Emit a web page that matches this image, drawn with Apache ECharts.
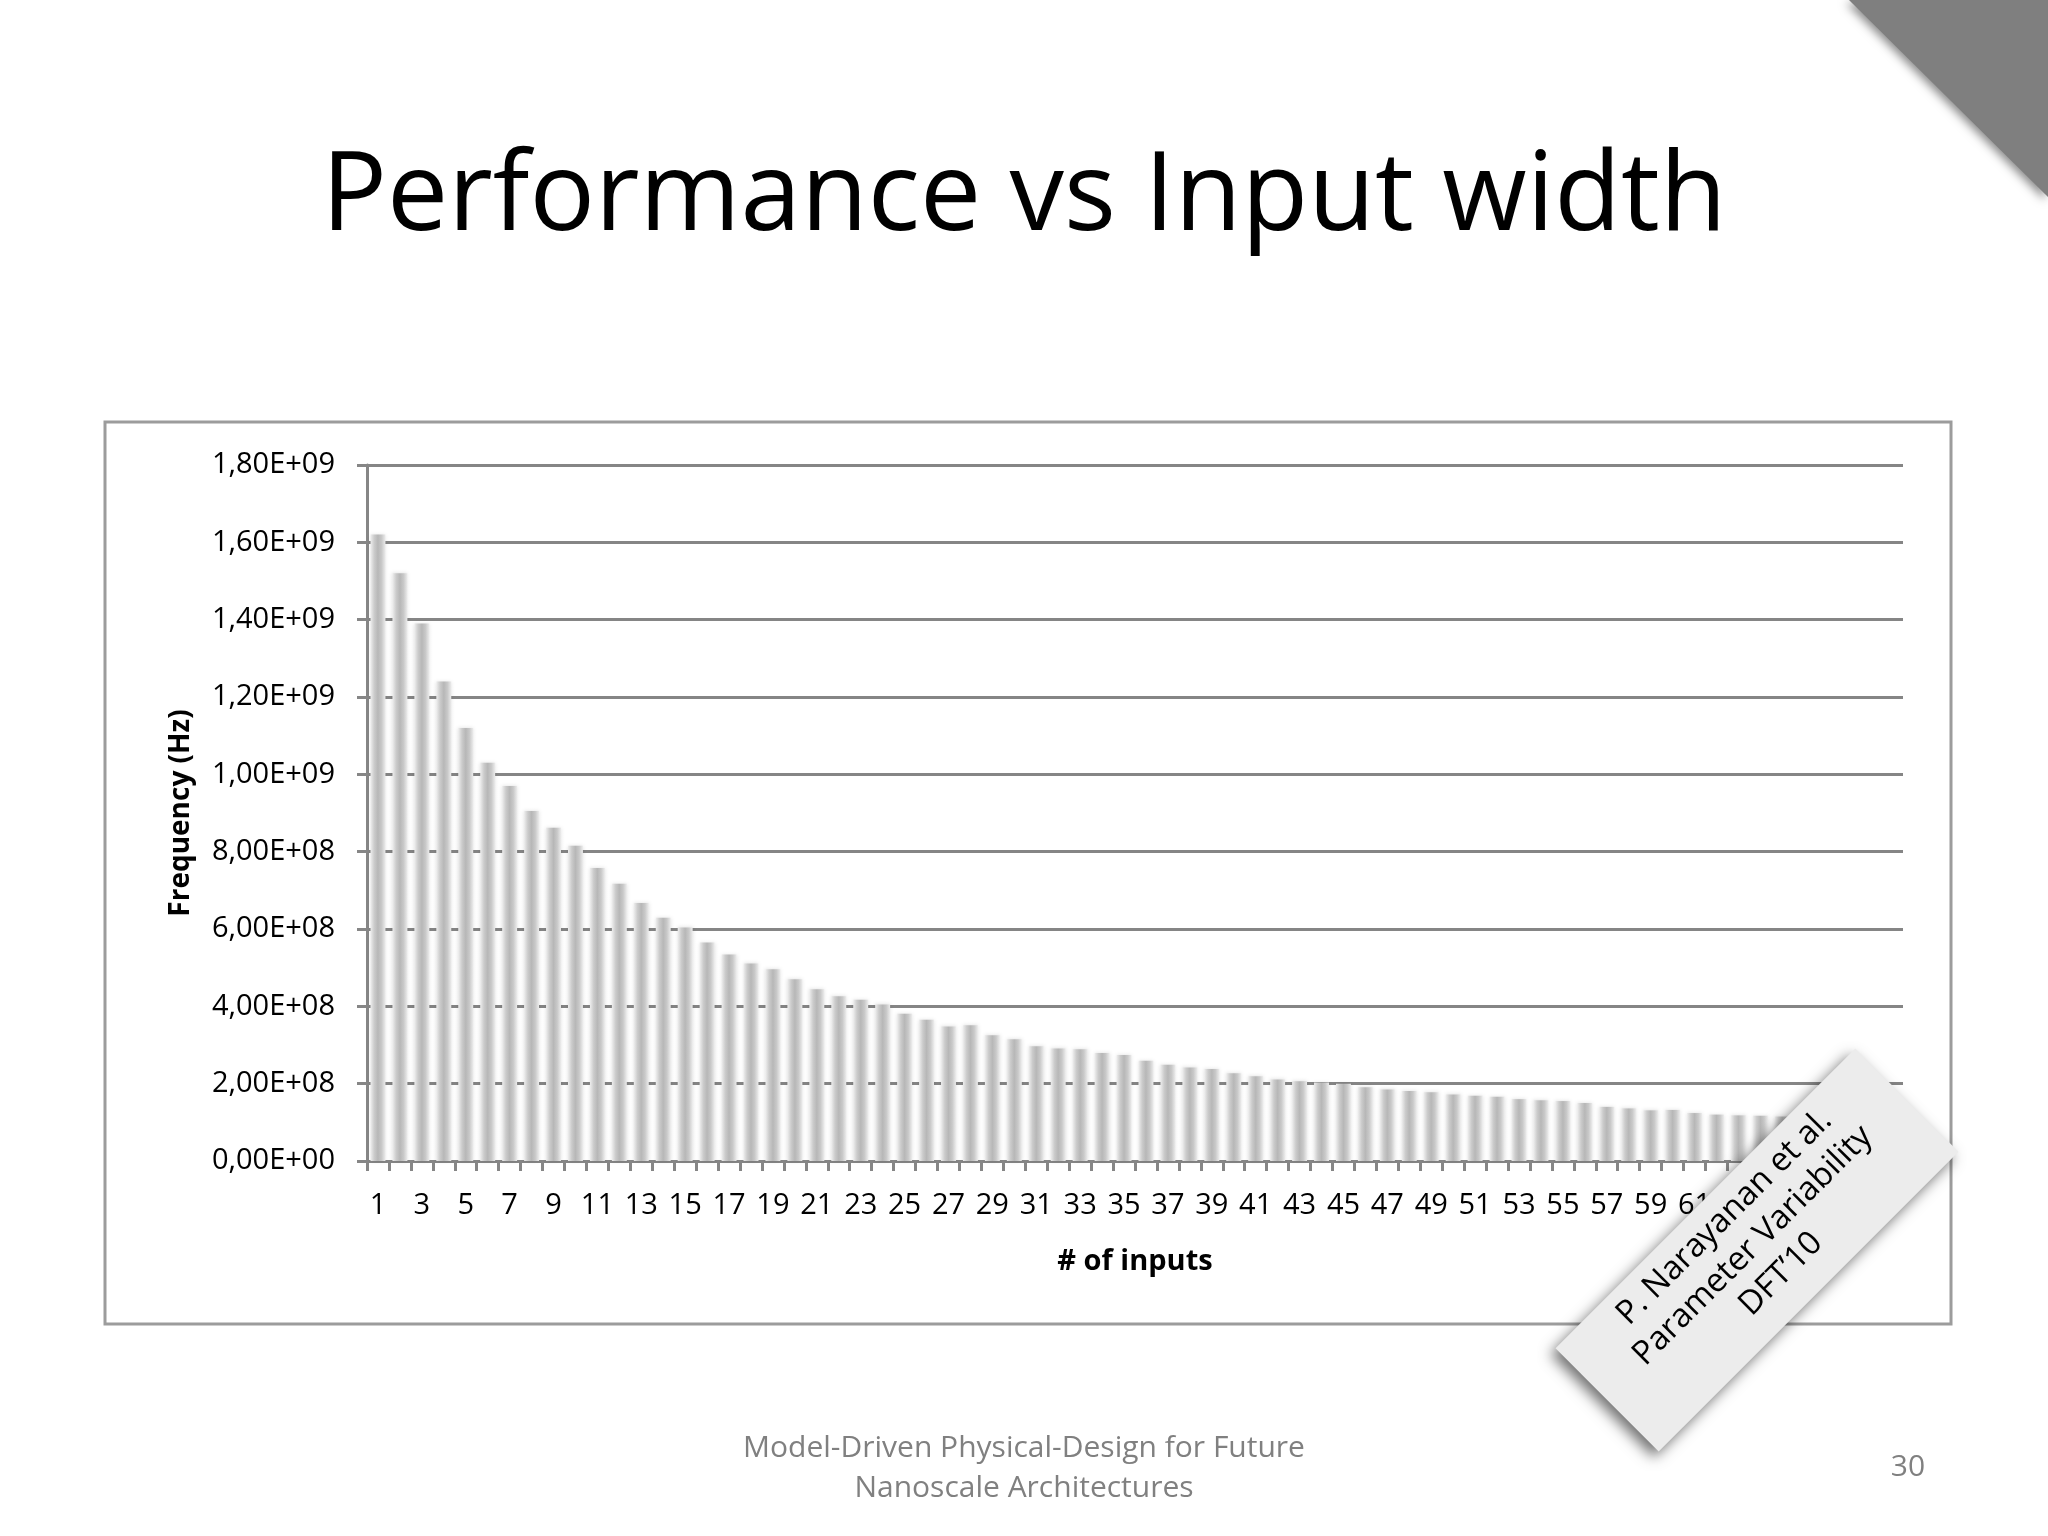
<!DOCTYPE html>
<html>
<head>
<meta charset="utf-8">
<script src="https://cdn.jsdelivr.net/npm/echarts@6/dist/echarts.min.js"></script>
<style>
html,body{margin:0;padding:0;background:#ffffff;}
#chart{width:2048px;height:1536px;}
</style>
</head>
<body>
<div id="chart"></div>
<script>
// Categories: number of inputs
const inputs = [];
for (let i = 1; i <= 70; i++) inputs.push(String(i));

// Frequency (Hz)
const frequency = [
  1.62e9, 1.52e9, 1.39e9, 1.24e9, 1.12e9, 1.03e9, 0.97e9, 0.905e9, 0.862e9, 0.815e9,
  0.758e9, 0.717e9, 0.667e9, 0.629e9, 0.604e9, 0.565e9, 0.534e9, 0.511e9, 0.496e9, 0.470e9,
  0.444e9, 0.426e9, 0.417e9, 0.405e9, 0.381e9, 0.365e9, 0.348e9, 0.351e9, 0.325e9, 0.315e9,
  0.297e9, 0.291e9, 0.289e9, 0.279e9, 0.274e9, 0.259e9, 0.249e9, 0.242e9, 0.238e9, 0.227e9,
  0.219e9, 0.211e9, 0.206e9, 0.203e9, 0.200e9, 0.191e9, 0.185e9, 0.181e9, 0.178e9, 0.172e9,
  0.169e9, 0.166e9, 0.160e9, 0.157e9, 0.155e9, 0.150e9, 0.140e9, 0.136e9, 0.131e9, 0.132e9,
  0.124e9, 0.120e9, 0.118e9, 0.117e9, 0.115e9, 0.112e9, 0.110e9, 0.108e9, 0.106e9, 0.104e9
];

const titleText = 'Performance vs Input width';
const xName = '# of inputs';
const yName = 'Frequency (Hz)';
const footerLines = ['Model-Driven Physical-Design for Future', 'Nanoscale Architectures'];
const pageNumber = '30';
const noteLines = ['P. Narayanan et al.', 'Parameter Variability', 'DFT\u201910'];

function sci(v) {
  v = Math.round(v);
  if (v === 0) return '0,00E+00';
  let e = Math.floor(Math.log10(v));
  let m = v / Math.pow(10, e);
  if (m >= 9.995) { m /= 10; e += 1; }
  return m.toFixed(2).replace('.', ',') + 'E+' + String(e).padStart(2, '0');
}

const FONT = '"Open Sans", "Noto Sans", sans-serif';
const chart = echarts.init(document.getElementById('chart'));

chart.setOption({
  backgroundColor: '#ffffff',
  animation: false,
  grid: { left: 367, right: 145, top: 465, bottom: 375, containLabel: false },
  xAxis: {
    type: 'category',
    data: inputs,
    boundaryGap: true,
    name: xName,
    nameLocation: 'middle',
    nameGap: 86,
    nameTextStyle: { fontFamily: FONT, fontSize: 29, fontWeight: 'bold', color: '#000' },
    axisLine: { lineStyle: { color: '#868686', width: 3 } },
    axisTick: { show: true, interval: 0, length: 10, lineStyle: { color: '#868686', width: 3 } },
    axisLabel: { interval: 1, margin: 30, fontFamily: FONT, fontSize: 29, color: '#000' }
  },
  yAxis: {
    type: 'value',
    min: 0,
    max: 1.8e9,
    interval: 2e8,
    name: yName,
    nameLocation: 'middle',
    nameGap: 172,
    nameRotate: 90,
    nameTextStyle: { fontFamily: FONT, fontSize: 28, fontWeight: 'bold', color: '#000' },
    axisLine: { show: true, lineStyle: { color: '#868686', width: 3 } },
    axisTick: { show: true, length: 10, lineStyle: { color: '#868686', width: 3 } },
    axisLabel: { margin: 32, fontFamily: FONT, fontSize: 29, color: '#000', formatter: sci },
    splitLine: { show: true, lineStyle: { color: '#858585', width: 3 } }
  },
  series: [{
    type: 'bar',
    data: frequency,
    barWidth: '68%',
    itemStyle: {
      shadowBlur: 4,
      shadowColor: 'rgba(0,0,0,0.12)',
      color: {
        type: 'linear', x: 0, y: 0, x2: 1, y2: 0,
        colorStops: [
          { offset: 0, color: '#eeeeee' },
          { offset: 0.25, color: '#cbcbcb' },
          { offset: 0.5, color: '#b7b7b7' },
          { offset: 0.75, color: '#c9c9c9' },
          { offset: 1, color: '#ececec' }
        ]
      }
    }
  }],
  graphic: [
    {
      type: 'rect', z: -1, silent: true,
      shape: { x: 105, y: 422, width: 1846, height: 902 },
      style: { fill: 'transparent', stroke: '#9c9c9c', lineWidth: 3 }
    },
    {
      type: 'polygon', z: 10, silent: true,
      shape: { points: [[1849, 0], [2048, 0], [2048, 197]] },
      style: { fill: '#7f7f7f', shadowBlur: 10, shadowColor: 'rgba(0,0,0,0.45)', shadowOffsetX: -3, shadowOffsetY: 3 }
    },
    {
      type: 'text', z: 10, silent: true,
      x: 1024, y: 199,
      style: { text: titleText, fill: '#000', font: '109px ' + FONT, align: 'center', verticalAlign: 'middle' }
    },
    {
      type: 'text', z: 10, silent: true,
      x: 1024, y: 1448,
      style: { text: footerLines[0], fill: '#808080', font: '30px ' + FONT, align: 'center', verticalAlign: 'middle' }
    },
    {
      type: 'text', z: 10, silent: true,
      x: 1024, y: 1488,
      style: { text: footerLines[1], fill: '#808080', font: '30px ' + FONT, align: 'center', verticalAlign: 'middle' }
    },
    {
      type: 'text', z: 10, silent: true,
      x: 1908, y: 1467,
      style: { text: pageNumber, fill: '#808080', font: '30px ' + FONT, align: 'center', verticalAlign: 'middle' }
    },
    {
      type: 'group', z: 20, silent: true,
      x: 1757, y: 1250,
      rotation: Math.PI / 4,
      children: [
        {
          type: 'rect', z: 20,
          shape: { x: -212, y: -73, width: 424, height: 146 },
          style: { fill: '#ececec', shadowBlur: 14, shadowColor: 'rgba(0,0,0,0.55)', shadowOffsetX: -5, shadowOffsetY: 6 }
        },
        {
          type: 'text', z: 21,
          x: 0, y: -6,
          style: { text: noteLines.join('\n'), fill: '#000', font: '33px ' + FONT, align: 'center', verticalAlign: 'middle', lineHeight: 40 }
        }
      ]
    }
  ]
});
</script>
</body>
</html>
